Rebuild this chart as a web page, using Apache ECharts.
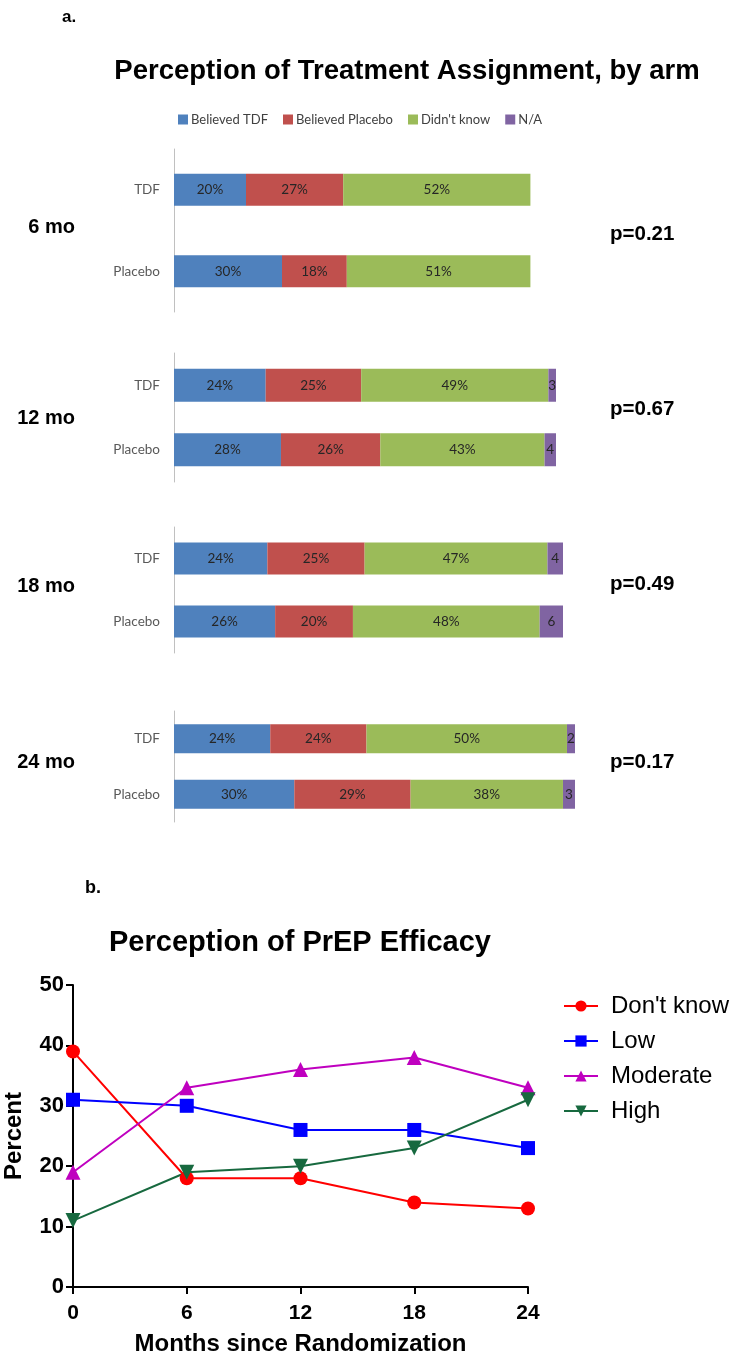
<!DOCTYPE html>
<html>
<head>
<meta charset="utf-8">
<script src="https://cdn.jsdelivr.net/npm/echarts@6/dist/echarts.min.js"></script>
<style>html,body{margin:0;padding:0;background:#fff}#c{width:733px;height:1359px}</style>
</head>
<body>
<div id="c"></div>
<script>
// ---- Panel a data ----
const arms = ['TDF', 'Placebo'];
const timepoints = ['6 mo', '12 mo', '18 mo', '24 mo'];
const pValues = ['p=0.21', 'p=0.67', 'p=0.49', 'p=0.17'];
const believedTDF = [[20, 30], [24, 28], [24, 26], [24, 30]];
const believedPlacebo = [[27, 18], [25, 26], [25, 20], [24, 29]];
const didntKnow = [[52, 51], [49, 43], [47, 48], [50, 38]];
const notApplicable = [[null, null], [3, 4], [4, 6], [2, 3]];
const barNames = ['Believed TDF', 'Believed Placebo', "Didn't know", 'N/A'];

// ---- Panel b data ----
const months = [0, 6, 12, 18, 24];
const dontKnow = [39, 18, 18, 14, 13];
const low = [31, 30, 26, 26, 23];
const moderate = [19, 33, 36, 38, 33];
const high = [11, 19, 20, 23, 31];
const lineNames = ["Don't know", 'Low', 'Moderate', 'High'];

// ---- layout (styles only) ----
const panelLayout = [
  { top: 149, height: 163, width: 360, barW: 32, labelY: 227, pY: 234 },
  { top: 353, height: 129, width: 382, barW: 33, labelY: 418, pY: 409 },
  { top: 527, height: 126, width: 389, barW: 32, labelY: 586, pY: 584 },
  { top: 711, height: 111, width: 401, barW: 29, labelY: 762, pY: 762 }
];
const barColors = ['#4F81BD', '#C0504D', '#9BBB59', '#8064A2'];
const lineColors = ['#ff0000', '#0000ff', '#bf00bf', '#17693f'];
const arial = "'Liberation Sans', Arial, sans-serif";
const calibri = "Lato, 'Open Sans', sans-serif";

const grids = [], xAxes = [], yAxes = [], series = [], graphics = [];
const barSets = [believedTDF, believedPlacebo, didntKnow, notApplicable];

panelLayout.forEach((p, i) => {
  grids.push({ left: 174, top: p.top, width: p.width, height: p.height, outerBoundsMode: 'none' });
  xAxes.push({ gridIndex: i, type: 'value', min: 0, max: 100, show: false });
  yAxes.push({
    gridIndex: i, type: 'category', data: arms, inverse: true,
    axisLine: { show: true, lineStyle: { color: '#c0c0c0', width: 1 } },
    axisTick: { show: false },
    axisLabel: { color: '#595959', fontSize: 13.5, fontFamily: calibri, margin: 14 }
  });
  barSets.forEach((set, k) => {
    series.push({
      type: 'bar', name: barNames[k], stack: 'p' + i,
      xAxisIndex: i, yAxisIndex: i, data: set[i], barWidth: p.barW,
      itemStyle: { color: barColors[k] },
      label: {
        show: true, position: 'inside', color: '#262626', fontSize: 13.5, fontFamily: calibri,
        formatter: k === 3 ? '{c}' : '{c}%'
      },
      emphasis: { disabled: true }
    });
  });
  graphics.push({
    type: 'text', x: 75, y: p.labelY,
    style: { text: timepoints[i], font: 'bold 20px ' + arial, fill: '#000', align: 'right', verticalAlign: 'middle' }
  });
  graphics.push({
    type: 'text', x: 610, y: p.pY,
    style: { text: pValues[i], font: 'bold 20.5px ' + arial, fill: '#000', align: 'left', verticalAlign: 'middle' }
  });
});

// line chart grid
grids.push({ left: 73, right: 205, top: 985, height: 302, outerBoundsMode: 'none' });
xAxes.push({
  gridIndex: 4, type: 'value', min: 0, max: 24, interval: 6,
  name: 'Months since Randomization', nameLocation: 'middle', nameGap: 45,
  nameTextStyle: { fontSize: 24, fontWeight: 'bold', fontFamily: arial, color: '#000' },
  axisLine: { lineStyle: { color: '#000', width: 2 } },
  axisTick: { show: true, length: 7, lineStyle: { color: '#000', width: 2 } },
  axisLabel: { fontSize: 21, fontWeight: 'bold', fontFamily: arial, color: '#000', margin: 16 },
  splitLine: { show: false }
});
yAxes.push({
  gridIndex: 4, type: 'value', min: 0, max: 50, interval: 10,
  name: 'Percent', nameLocation: 'middle', nameGap: 47,
  nameTextStyle: { fontSize: 24, fontWeight: 'bold', fontFamily: arial, color: '#000' },
  axisLine: { show: true, lineStyle: { color: '#000', width: 2 } },
  axisTick: { show: true, length: 7, lineStyle: { color: '#000', width: 2 } },
  axisLabel: { fontSize: 22, fontWeight: 'bold', fontFamily: arial, color: '#000', margin: 9 },
  splitLine: { show: false }
});
const lineSets = [dontKnow, low, moderate, high];
const symbols = ['circle', 'rect', 'triangle', 'triangle'];
const symbolSizes = [14, 14, 15, 15];
const rotations = [0, 0, 0, 180];
lineSets.forEach((vals, k) => {
  series.push({
    type: 'line', name: lineNames[k], xAxisIndex: 4, yAxisIndex: 4,
    data: months.map((m, j) => [m, vals[j]]),
    symbol: symbols[k], symbolSize: symbolSizes[k], symbolRotate: rotations[k],
    lineStyle: { color: lineColors[k], width: 2 },
    itemStyle: { color: lineColors[k] },
    emphasis: { disabled: true }
  });
});

graphics.push({ type: 'text', left: 62, top: 9, style: { text: 'a.', font: 'bold 17px ' + arial, fill: '#000' } });
graphics.push({ type: 'text', left: 85, top: 879, style: { text: 'b.', font: 'bold 18px ' + arial, fill: '#000' } });

const option = {
  animation: false,
  backgroundColor: '#fff',
  title: [
    { text: 'Perception of Treatment Assignment, by arm', left: 402, textAlign: 'center', top: 52,
      textStyle: { fontSize: 27.5, fontWeight: 'bold', fontFamily: arial, color: '#000' } },
    { text: 'Perception of PrEP Efficacy', left: 295, textAlign: 'center', top: 923,
      textStyle: { fontSize: 29, fontWeight: 'bold', fontFamily: arial, color: '#000' } }
  ],
  legend: [
    { data: barNames, left: 178, top: 113, padding: 0, itemWidth: 10, itemHeight: 10, itemGap: 15,
      icon: 'rect', textStyle: { fontSize: 13, fontFamily: calibri, color: '#404040', padding: [0, 0, 0, -2] } },
    { data: lineNames, orient: 'vertical', left: 558, top: 989, itemWidth: 34, itemHeight: 14, itemGap: 11,
      textStyle: { fontSize: 24, fontFamily: arial, color: '#000', lineHeight: 24, padding: [0, 0, 0, 8] } }
  ],
  grid: grids, xAxis: xAxes, yAxis: yAxes, series: series, graphic: graphics
};
const chart = echarts.init(document.getElementById('c'), null, { renderer: 'canvas' });
chart.setOption(option);
</script>
</body>
</html>
